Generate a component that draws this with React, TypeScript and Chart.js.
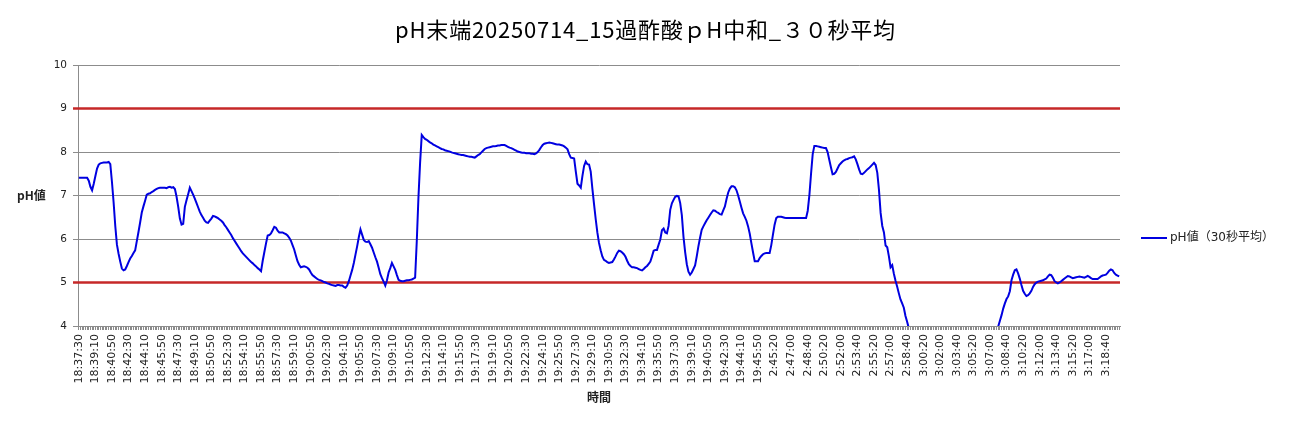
import React, { useEffect, useRef } from 'react';
import { Chart, registerables } from 'chart.js';

Chart.register(...registerables);

const TITLE = 'pH末端20250714_15過酢酸ｐH中和_３０秒平均';
const SERIES_LABEL = 'pH値（30秒平均）';
const Y_TITLE = 'pH値';
const X_TITLE = '時間';

const Y_MIN = 4;
const Y_MAX = 10;
const Y_STEP = 1;
const LIMIT_LINES = [9, 5];

const tickLabels = [
  '18:37:30', '18:39:10', '18:40:50', '18:42:30', '18:44:10', '18:45:50', '18:47:30', '18:49:10',
  '18:50:50', '18:52:30', '18:54:10', '18:55:50', '18:57:30', '18:59:10', '19:00:50', '19:02:30',
  '19:04:10', '19:05:50', '19:07:30', '19:09:10', '19:10:50', '19:12:30', '19:14:10', '19:15:50',
  '19:17:30', '19:19:10', '19:20:50', '19:22:30', '19:24:10', '19:25:50', '19:27:30', '19:29:10',
  '19:30:50', '19:32:30', '19:34:10', '19:35:50', '19:37:30', '19:39:10', '19:40:50', '19:42:30',
  '19:44:10', '19:45:50', '2:45:20', '2:47:00', '2:48:40', '2:50:20', '2:52:00', '2:53:40',
  '2:55:20', '2:57:00', '2:58:40', '3:00:20', '3:02:00', '3:03:40', '3:05:20', '3:07:00',
  '3:08:40', '3:10:20', '3:12:00', '3:13:40', '3:15:20', '3:17:00', '3:18:40',
];

const phValues = [
  7.41, 7.41, 7.41, 7.41, 7.41, 7.41, 7.34, 7.20, 7.12, 7.27,
  7.45, 7.62, 7.71, 7.74, 7.75, 7.76, 7.76, 7.76, 7.77, 7.72,
  7.31, 6.84, 6.30, 5.87, 5.66, 5.48, 5.32, 5.28, 5.30, 5.38,
  5.47, 5.55, 5.61, 5.68, 5.74, 5.95, 6.16, 6.38, 6.61, 6.75,
  6.88, 7.02, 7.04, 7.05, 7.08, 7.10, 7.13, 7.15, 7.17, 7.18,
  7.18, 7.18, 7.18, 7.17, 7.19, 7.20, 7.18, 7.19, 7.15, 6.97,
  6.74, 6.47, 6.33, 6.35, 6.74, 6.89, 7.03, 7.18, 7.10, 7.02,
  6.93, 6.83, 6.73, 6.63, 6.55, 6.49, 6.42, 6.38, 6.37, 6.42,
  6.47, 6.53, 6.52, 6.50, 6.48, 6.45, 6.42, 6.38, 6.32, 6.27,
  6.21, 6.15, 6.09, 6.02, 5.96, 5.90, 5.84, 5.78, 5.72, 5.67,
  5.63, 5.59, 5.55, 5.51, 5.47, 5.44, 5.40, 5.37, 5.33, 5.30,
  5.26, 5.50, 5.70, 5.90, 6.08, 6.09, 6.13, 6.20, 6.28, 6.26,
  6.19, 6.15, 6.15, 6.15, 6.13, 6.11, 6.08, 6.03, 5.96, 5.86,
  5.76, 5.62, 5.49, 5.41, 5.35, 5.36, 5.37, 5.36, 5.34, 5.30,
  5.23, 5.17, 5.14, 5.11, 5.08, 5.06, 5.05, 5.03, 5.01, 5.00,
  4.98, 4.97, 4.95, 4.94, 4.93, 4.92, 4.94, 4.94, 4.93, 4.93,
  4.90, 4.88, 4.93, 5.03, 5.16, 5.29, 5.45, 5.64, 5.83, 6.04,
  6.22, 6.10, 5.98, 5.94, 5.93, 5.95, 5.88, 5.80, 5.69, 5.58,
  5.48, 5.34, 5.19, 5.10, 5.02, 4.93, 5.05, 5.23, 5.33, 5.45,
  5.37, 5.29, 5.17, 5.06, 5.04, 5.03, 5.03, 5.04, 5.05, 5.05,
  5.06, 5.07, 5.09, 5.11, 5.95, 6.95, 7.75, 8.39, 8.34, 8.30,
  8.28, 8.25, 8.22, 8.20, 8.17, 8.15, 8.13, 8.11, 8.09, 8.07,
  8.06, 8.04, 8.03, 8.02, 8.01, 7.99, 7.98, 7.97, 7.96, 7.95,
  7.94, 7.93, 7.93, 7.92, 7.91, 7.90, 7.89, 7.89, 7.88, 7.87,
  7.90, 7.93, 7.95, 7.99, 8.03, 8.07, 8.09, 8.10, 8.11, 8.12,
  8.13, 8.13, 8.14, 8.15, 8.15, 8.16, 8.16, 8.16, 8.14, 8.12,
  8.10, 8.09, 8.07, 8.05, 8.03, 8.01, 8.00, 7.99, 7.98, 7.98,
  7.97, 7.97, 7.97, 7.96, 7.96, 7.95, 7.97, 8.00, 8.05, 8.11,
  8.16, 8.19, 8.20, 8.21, 8.22, 8.21, 8.20, 8.19, 8.18, 8.17,
  8.17, 8.16, 8.15, 8.13, 8.10, 8.06, 7.95, 7.87, 7.86, 7.85,
  7.55, 7.27, 7.23, 7.18, 7.45, 7.68, 7.78, 7.72, 7.71, 7.55,
  7.16, 6.80, 6.46, 6.15, 5.91, 5.74, 5.60, 5.52, 5.50, 5.47,
  5.45, 5.46, 5.47, 5.53, 5.60, 5.68, 5.73, 5.72, 5.69, 5.65,
  5.59, 5.50, 5.42, 5.38, 5.35, 5.35, 5.34, 5.33, 5.31, 5.29,
  5.28, 5.31, 5.35, 5.38, 5.43, 5.48, 5.60, 5.73, 5.75, 5.75,
  5.87, 5.99, 6.20, 6.24, 6.15, 6.13, 6.30, 6.67, 6.82, 6.90,
  6.97, 6.99, 6.98, 6.83, 6.55, 6.05, 5.70, 5.42, 5.25, 5.18,
  5.23, 5.31, 5.39, 5.60, 5.83, 6.03, 6.21, 6.29, 6.36, 6.43,
  6.49, 6.55, 6.61, 6.66, 6.65, 6.62, 6.60, 6.57, 6.56, 6.66,
  6.75, 6.92, 7.07, 7.16, 7.21, 7.21, 7.19, 7.12, 7.00, 6.86,
  6.72, 6.59, 6.51, 6.42, 6.29, 6.12, 5.90, 5.69, 5.49, 5.49,
  5.49, 5.56, 5.61, 5.65, 5.67, 5.68, 5.68, 5.68, 5.86, 6.10,
  6.33, 6.48, 6.51, 6.51, 6.51, 6.50, 6.49, 6.48, 6.48, 6.48,
  6.48, 6.48, 6.48, 6.48, 6.48, 6.48, 6.48, 6.48, 6.48, 6.48,
  6.65, 7.01, 7.50, 7.95, 8.14, 8.14, 8.13, 8.12, 8.11, 8.10,
  8.09, 8.09, 8.00, 7.82, 7.65, 7.49, 7.50, 7.54, 7.62, 7.70,
  7.74, 7.78, 7.81, 7.83, 7.84, 7.86, 7.87, 7.88, 7.90, 7.83,
  7.72, 7.60, 7.50, 7.49, 7.52, 7.56, 7.60, 7.63, 7.67, 7.71,
  7.75, 7.70, 7.52, 7.13, 6.60, 6.30, 6.15, 5.85, 5.81, 5.60,
  5.35, 5.40, 5.20, 5.04, 4.90, 4.75, 4.61, 4.52, 4.42, 4.23,
  4.10, 3.95, 3.85, 3.75, 3.68, 3.62, 3.58, 3.55, 3.52, 3.50,
  3.48, 3.47, 3.46, 3.45, 3.45, 3.44, 3.44, 3.43, 3.43, 3.42,
  3.42, 3.41, 3.41, 3.40, 3.40, 3.40, 3.39, 3.39, 3.39, 3.38,
  3.38, 3.38, 3.38, 3.37, 3.37, 3.37, 3.37, 3.38, 3.38, 3.39,
  3.40, 3.41, 3.43, 3.45, 3.48, 3.51, 3.55, 3.60, 3.66, 3.72,
  3.78, 3.84, 3.89, 3.93, 3.96, 3.99, 4.12, 4.25, 4.40, 4.52,
  4.62, 4.68, 4.80, 5.05, 5.18, 5.28, 5.30, 5.21, 5.09, 4.94,
  4.81, 4.74, 4.69, 4.71, 4.75, 4.81, 4.90, 4.96, 5.00, 5.02,
  5.03, 5.04, 5.05, 5.07, 5.09, 5.14, 5.18, 5.17, 5.11, 5.03,
  5.00, 4.98, 5.00, 5.03, 5.06, 5.09, 5.12, 5.15, 5.14, 5.12,
  5.10, 5.11, 5.12, 5.13, 5.14, 5.13, 5.12, 5.11, 5.13, 5.15,
  5.13, 5.10, 5.08, 5.08, 5.08, 5.08, 5.11, 5.14, 5.16, 5.17,
  5.18, 5.22, 5.27, 5.30, 5.28, 5.22, 5.18, 5.16, 5.14,
];

const LABELS_EVERY = 10;
const categories = phValues.map((_, i) =>
  i % LABELS_EVERY === 0 ? tickLabels[i / LABELS_EVERY] ?? '' : ''
);

const LINE_COLOR = '#0000E0';
const LIMIT_COLOR = '#C62828';
const GRID_COLOR = '#8C8C8C';
const TEXT_COLOR = '#222222';
const TICK_FONT = '"DejaVu Sans", "Noto Sans CJK JP", sans-serif';
const CJK_FONT = '"Noto Sans CJK JP", "DejaVu Sans", sans-serif';

const decorPlugin = {
  id: 'decor',
  beforeDatasetsDraw(chart: any) {
    const { ctx, chartArea, scales } = chart;
    const y = scales.y;
    ctx.save();
    ctx.strokeStyle = LIMIT_COLOR;
    ctx.lineWidth = 2.5;
    LIMIT_LINES.forEach((v) => {
      const py = y.getPixelForValue(v);
      ctx.beginPath();
      ctx.moveTo(chartArea.left - 5, py);
      ctx.lineTo(chartArea.right, py);
      ctx.stroke();
    });
    ctx.restore();
  },
  afterDraw(chart: any) {
    const { ctx, chartArea, width } = chart;
    ctx.save();
    // chart title, centred over the whole chart
    ctx.font = `22px ${CJK_FONT}`;
    ctx.fillStyle = '#000000';
    ctx.textAlign = 'center';
    ctx.textBaseline = 'middle';
    if ('letterSpacing' in ctx) (ctx as any).letterSpacing = '0.8px';
    ctx.fillText(TITLE, width / 2, 30);
    if ('letterSpacing' in ctx) (ctx as any).letterSpacing = '0px';

    // vertical axis title (horizontal text, as in the original)
    ctx.font = `bold 12px ${CJK_FONT}`;
    ctx.fillStyle = TEXT_COLOR;
    ctx.textAlign = 'left';
    ctx.fillText(Y_TITLE, 17, (chartArea.top + chartArea.bottom) / 2);

    // legend
    const ly = 238;
    const lx = chartArea.right + 21;
    ctx.strokeStyle = LINE_COLOR;
    ctx.lineWidth = 2;
    ctx.beginPath();
    ctx.moveTo(lx, ly);
    ctx.lineTo(lx + 26, ly);
    ctx.stroke();
    ctx.font = `12px ${TICK_FONT}`;
    ctx.fillStyle = TEXT_COLOR;
    ctx.fillText(SERIES_LABEL, lx + 29, ly);
    ctx.restore();
  },
};

export default function App() {
  const canvasRef = useRef<HTMLCanvasElement | null>(null);

  useEffect(() => {
    if (!canvasRef.current) return;
    const chart = new Chart(canvasRef.current, {
      type: 'line',
      data: {
        labels: categories,
        datasets: [
          {
            label: SERIES_LABEL,
            data: phValues,
            borderColor: LINE_COLOR,
            backgroundColor: LINE_COLOR,
            borderWidth: 2,
            pointRadius: 0,
            tension: 0,
            fill: false,
          },
        ],
      },
      options: {
        animation: false,
        responsive: true,
        maintainAspectRatio: false,
        devicePixelRatio: 1,
        layout: { padding: { left: 0, right: 171, top: 65, bottom: 0 } },
        plugins: {
          legend: { display: false },
          tooltip: { enabled: false },
          title: { display: false },
        },
        scales: {
          x: {
            type: 'category',
            offset: true,
            afterFit(scale: any) {
              scale.height = 101;
            },
            grid: {
              display: true,
              drawOnChartArea: false,
              drawTicks: true,
              tickLength: 4,
              color: GRID_COLOR,
              offset: false,
            },
            border: { display: true, color: GRID_COLOR, width: 1 },
            ticks: {
              autoSkip: false,
              maxRotation: 90,
              minRotation: 90,
              padding: 4,
              color: TEXT_COLOR,
              font: { family: TICK_FONT, size: 11 },
            },
            title: {
              display: true,
              text: X_TITLE,
              color: TEXT_COLOR,
              font: { family: CJK_FONT, size: 12, weight: 'bold' },
              padding: { top: 0, bottom: 22 },
            },
          },
          y: {
            min: Y_MIN,
            max: Y_MAX,
            afterFit(scale: any) {
              scale.width = 78;
            },
            ticks: {
              stepSize: Y_STEP,
              padding: 6,
              color: TEXT_COLOR,
              font: { family: TICK_FONT, size: 10.5 },
            },
            grid: {
              color: GRID_COLOR,
              tickLength: 5,
              lineWidth: 1,
            },
            border: { display: true, color: GRID_COLOR, width: 1 },
          },
        },
      },
      plugins: [decorPlugin],
    });
    return () => chart.destroy();
  }, []);

  return (
    <div style={{ position: 'fixed', left: 0, top: 0, width: 1291, height: 427, background: '#fff' }}>
      <canvas ref={canvasRef} />
    </div>
  );
}
